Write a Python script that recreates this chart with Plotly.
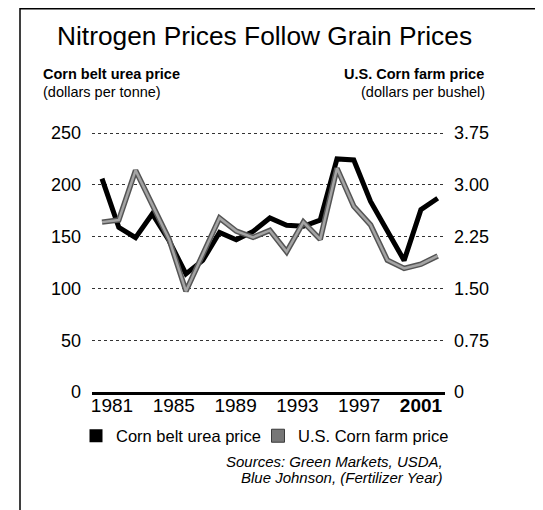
import plotly.graph_objects as go

# ---- data ----
years = list(range(1981, 2002))
urea_price = [206, 159, 149, 172, 146, 114, 127, 154, 147, 155, 168,
              161, 160, 166, 225, 224, 184, 156, 127, 176, 187]   # $/tonne
corn_price = [2.46, 2.49, 3.21, 2.70, 2.21, 1.46, 2.00, 2.52, 2.33, 2.24, 2.34,
              2.03, 2.46, 2.21, 3.24, 2.69, 2.42, 1.91, 1.79, 1.85, 1.97]  # $/bushel
x_tick_years = [1981, 1985, 1989, 1993, 1997, 2001]
x_tick_text = ["1981", "1985", "1989", "1993", "1997", "<b>2001</b>"]
left_ticks = [0, 50, 100, 150, 200, 250]
right_ticks = [0, 0.75, 1.50, 2.25, 3.00, 3.75]
right_tick_text = ["0", "0.75", "1.50", "2.25", "3.00", "3.75"]

FONT = "Liberation Sans, Arial, Helvetica, sans-serif"
# the page body has an 8px default margin, so the figure is 8px smaller
W, H = 535, 502
OFF = 8
L, R, T, B = 84, 98, 124, 118
PW, PH = W - L - R, H - T - B


def X(px):   # screen px -> paper fraction
    return (px - OFF - L) / PW


def Y(py):
    return (H - B - (py - OFF)) / PH


fig = go.Figure()

# urea (black)
fig.add_trace(go.Scatter(x=years, y=urea_price, mode="lines",
                         line=dict(color="#000000", width=5),
                         showlegend=False, hoverinfo="skip"))
# corn (gray, outlined)
fig.add_trace(go.Scatter(x=years, y=corn_price, yaxis="y2", mode="lines",
                         line=dict(color="#555555", width=5.5),
                         showlegend=False, hoverinfo="skip"))
fig.add_trace(go.Scatter(x=years, y=corn_price, yaxis="y2", mode="lines",
                         line=dict(color="#a4a4a4", width=2.5),
                         showlegend=False, hoverinfo="skip"))
# axis carrying the year labels
fig.add_trace(go.Scatter(x=[None], y=[None], xaxis="x2", mode="lines",
                         showlegend=False, hoverinfo="skip"))
# legend entries
fig.add_trace(go.Scatter(x=[None], y=[None], mode="markers", name="Corn belt urea price",
                         legendwidth=137,
                         marker=dict(symbol="square", size=13, color="#000000")))
fig.add_trace(go.Scatter(x=[None], y=[None], mode="markers", name="U.S. Corn farm price",
                         legendwidth=165,
                         marker=dict(symbol="square", size=13, color="#767676",
                                     line=dict(color="#3a3a3a", width=1))))

ymax = 251
fig.update_layout(
    width=W, height=H,
    margin=dict(l=L, r=R, t=T, b=B, autoexpand=False),
    paper_bgcolor="white", plot_bgcolor="white",
    font=dict(family=FONT, color="#000000"),
    xaxis=dict(range=[1980.404, 2001.435], showticklabels=False, ticks="",
               showgrid=False, zeroline=False, showline=True,
               linecolor="#000000", linewidth=2.5, fixedrange=True),
    xaxis2=dict(range=[1979.706, 2002.553], overlaying="x", side="bottom",
                tickvals=x_tick_years, ticktext=x_tick_text, ticks="",
                tickfont=dict(size=19, family=FONT, color="#000000"),
                showgrid=False, zeroline=False, showline=False,
                ticklabelstandoff=0),
    yaxis=dict(range=[0, ymax], tickvals=left_ticks, ticks="",
               tickfont=dict(size=18, family=FONT, color="#000000"),
               showgrid=True, gridcolor="#333333", gridwidth=1, griddash="dot",
               zeroline=False, showline=False, ticklabelstandoff=10),
    yaxis2=dict(range=[0, ymax * 0.015], overlaying="y", side="right",
                tickvals=right_ticks, ticktext=right_tick_text, ticks="",
                tickfont=dict(size=18, family=FONT, color="#000000"),
                showgrid=False, zeroline=False, showline=False,
                ticklabelstandoff=8),
    legend=dict(orientation="h", x=X(76), xanchor="left", y=Y(436), yanchor="middle",
                font=dict(size=16.5, family=FONT, color="#000000"),
                bgcolor="rgba(0,0,0,0)", itemwidth=30),
    showlegend=True,
)

# frame
fig.add_shape(type="rect", xref="paper", yref="paper",
              x0=X(20), x1=X(536), y0=Y(530), y1=Y(8.8),
              line=dict(color="#000000", width=1.5), fillcolor="rgba(0,0,0,0)")

ann = [
    dict(text="Nitrogen Prices Follow Grain Prices", x=X(264), y=Y(35.5),
         xanchor="center", size=26.3),
    dict(text="<b>Corn belt urea price</b>", x=X(41), y=Y(74), xanchor="left", size=14.5),
    dict(text="(dollars per tonne)", x=X(41), y=Y(92), xanchor="left", size=14.5),
    dict(text="<b>U.S. Corn farm price</b>", x=X(486), y=Y(74), xanchor="right", size=14.5),
    dict(text="(dollars per bushel)", x=X(487), y=Y(92), xanchor="right", size=14.5),
    dict(text="<i>Sources: Green Markets, USDA,</i>", x=X(445), y=Y(461),
         xanchor="right", size=15),
    dict(text="<i>Blue Johnson, (Fertilizer Year)</i>", x=X(444), y=Y(477),
         xanchor="right", size=15),
]
for a in ann:
    fig.add_annotation(text=a["text"], x=a["x"], y=a["y"], xref="paper", yref="paper",
                       xanchor=a["xanchor"], yanchor="middle", showarrow=False,
                       font=dict(size=a["size"], family=FONT, color="#000000"))

fig.write_html("out.html")
